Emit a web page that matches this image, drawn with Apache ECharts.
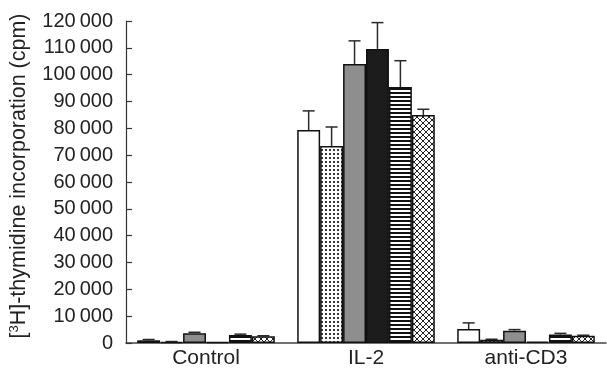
<!DOCTYPE html>
<html>
<head>
<meta charset="utf-8">
<script src="https://cdn.jsdelivr.net/npm/echarts@6/dist/echarts.min.js"></script>
<style>
  html, body { margin: 0; padding: 0; background: #fff; }
  #chart { width: 607px; height: 369px; }
</style>
</head>
<body>
<div id="chart"></div>
<script>
// Stimulation conditions on the x axis
const categories = ['Control', 'IL-2', 'anti-CD3'];

// Mean [3H]-thymidine incorporation (cpm) per group, one array per bar fill
const openBar      = [1000, 79400, 5200];
const dottedBar    = [400, 73400, 1200];
const greyBar      = [3600, 104000, 4600];
const blackBar     = [300, 109600, 500];
const stripedBar   = [3000, 95400, 3200];
const crossBar     = [2500, 85000, 2700];

// Upper error (cpm) drawn above each bar
const openErr      = [300, 7100, 2300];
const dottedErr    = [150, 7100, 200];
const greyErr      = [400, 8600, 400];
const blackErr     = [0, 9800, 0];
const stripedErr   = [300, 9800, 400];
const crossErr     = [200, 2100, 200];

// Y axis tick values
const yTicks = [0, 10000, 20000, 30000, 40000, 50000, 60000, 70000, 80000, 90000, 100000, 110000, 120000];

const FONT = '"Liberation Sans", Arial, Helvetica, sans-serif';
const GAP = 0.14;        // barCategoryGap as a fraction
const N = 6;             // bars per category
const CAP = 12;          // error bar cap width (px)

function makeCanvas(w, h, draw) {
  const c = document.createElement('canvas');
  c.width = w; c.height = h;
  const ctx = c.getContext('2d');
  ctx.fillStyle = '#fff';
  ctx.fillRect(0, 0, w, h);
  draw(ctx);
  return c;
}

const dotTile = makeCanvas(4, 4, ctx => {
  ctx.fillStyle = '#3a3a3a';
  ctx.fillRect(1, 1, 2, 2);
});
const stripeTile = makeCanvas(4, 4, ctx => {
  ctx.fillStyle = '#111';
  ctx.fillRect(0, 0, 4, 2);
});
const crossTile = makeCanvas(6, 6, ctx => {
  ctx.strokeStyle = '#222';
  ctx.lineWidth = 1;
  ctx.beginPath();
  ctx.moveTo(0, 0); ctx.lineTo(6, 6);
  ctx.moveTo(6, 0); ctx.lineTo(0, 6);
  ctx.moveTo(-1, 5); ctx.lineTo(1, 7);
  ctx.moveTo(5, -1); ctx.lineTo(7, 1);
  ctx.stroke();
});

const seriesDefs = [
  { name: 'open',       values: openBar,    errs: openErr,    fill: '#ffffff' },
  { name: 'dotted',     values: dottedBar,  errs: dottedErr,  fill: { image: dotTile, repeat: 'repeat' } },
  { name: 'grey',       values: greyBar,    errs: greyErr,    fill: '#8e8e8e' },
  { name: 'black',      values: blackBar,   errs: blackErr,   fill: '#1c1c1c' },
  { name: 'striped',    values: stripedBar, errs: stripedErr, fill: { image: stripeTile, repeat: 'repeat' } },
  { name: 'crosshatch', values: crossBar,   errs: crossErr,   fill: { image: crossTile, repeat: 'repeat' } }
];

function thousands(v) {
  const s = String(v);
  if (v < 10000) return s;
  return s.slice(0, s.length - 3) + '\u2009' + s.slice(s.length - 3);
}

const series = [];
seriesDefs.forEach((d) => {
  series.push({
    name: d.name,
    type: 'bar',
    data: d.values,
    barGap: '0%',
    barCategoryGap: (GAP * 100) + '%',
    itemStyle: { color: d.fill, borderColor: '#111', borderWidth: 1.5 },
    z: 3,
    silent: true
  });
});
seriesDefs.forEach((d, idx) => {
  series.push({
    name: d.name + ' error',
    type: 'custom',
    z: 2,
    silent: true,
    data: d.values.map((m, i) => [i, m, m + d.errs[i]]),
    encode: { x: 0, y: [1, 2] },
    renderItem: function (params, api) {
      const cat = api.value(0);
      const mean = api.value(1);
      const top = api.value(2);
      if (top <= mean) return null;
      const pBase = api.coord([cat, mean]);
      const pTop = api.coord([cat, top]);
      const band = api.size([1, 0])[0];
      const groupW = band * (1 - GAP);
      const barW = groupW / N;
      const cx = pBase[0] - groupW / 2 + (idx + 0.5) * barW;
      const st = { stroke: '#2a2a2a', lineWidth: 1.5 };
      return {
        type: 'group',
        children: [
          { type: 'line', shape: { x1: cx, y1: pBase[1], x2: cx, y2: pTop[1] }, style: st },
          { type: 'line', shape: { x1: cx - CAP / 2, y1: pTop[1], x2: cx + CAP / 2, y2: pTop[1] }, style: st }
        ]
      };
    }
  });
});

const chart = echarts.init(document.getElementById('chart'), null, { renderer: 'canvas' });
chart.setOption({
  animation: false,
  backgroundColor: '#fff',
  grid: { left: 126, right: 1, top: 21, bottom: 26, containLabel: false },
  xAxis: {
    type: 'category',
    data: categories,
    axisLine: { lineStyle: { color: '#444', width: 1.5 } },
    axisTick: { show: false },
    axisLabel: { color: '#222', fontFamily: FONT, fontSize: 21, margin: 5 },
    splitLine: { show: false }
  },
  yAxis: {
    type: 'value',
    min: yTicks[0],
    max: yTicks[yTicks.length - 1],
    interval: yTicks[1] - yTicks[0],
    axisLine: { show: true, lineStyle: { color: '#333', width: 1.2 } },
    axisTick: { show: true, inside: true, length: 6, lineStyle: { color: '#333', width: 1.2 } },
    splitLine: { show: false },
    axisLabel: { color: '#222', fontFamily: FONT, fontSize: 20, margin: 13, formatter: thousands }
  },
  graphic: [{
    type: 'text',
    x: 19,
    y: 176,
    rotation: Math.PI / 2,
    silent: true,
    style: {
      text: '[{sup|3}H]-thymidine incorporation (cpm)',
      fill: '#222',
      font: '21.5px ' + FONT,
      align: 'center',
      verticalAlign: 'middle',
      rich: {
        sup: { fontFamily: FONT, fontSize: 13, fill: '#222', verticalAlign: 'top', padding: [0, 0, 9, 0] }
      }
    }
  }],
  series: series
});
</script>
</body>
</html>
